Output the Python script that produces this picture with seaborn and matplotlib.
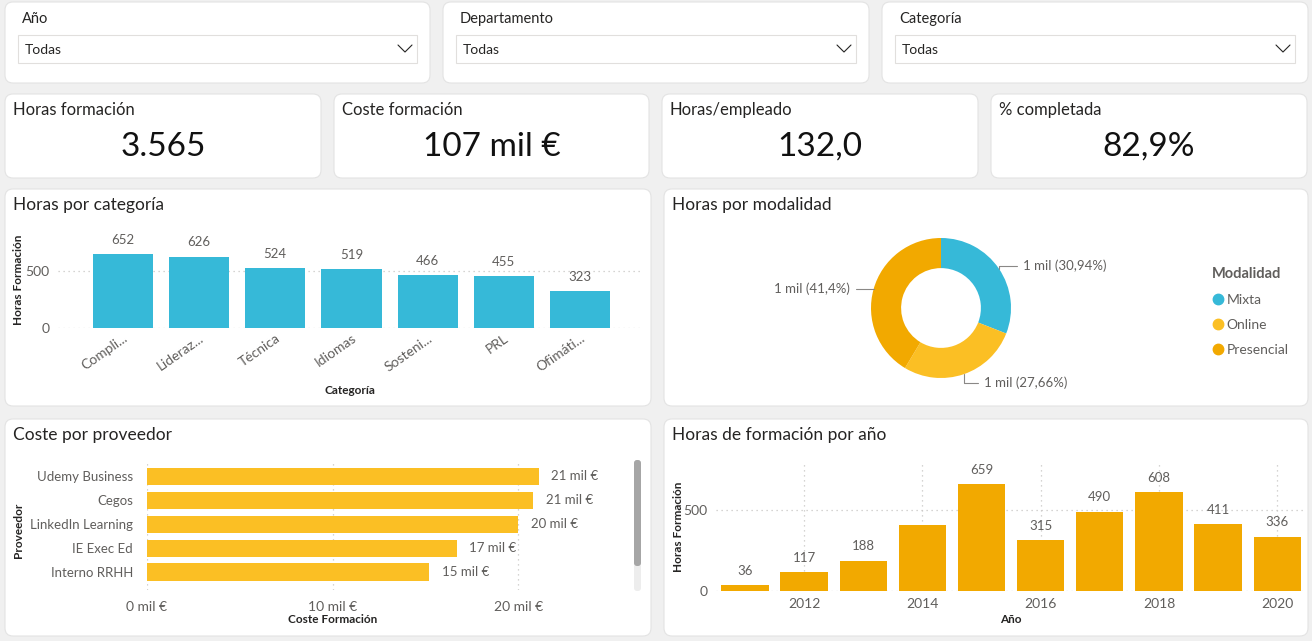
import matplotlib
matplotlib.use("Agg")
import matplotlib.pyplot as plt
import numpy as np
import pandas as pd
import seaborn as sns
from matplotlib.lines import Line2D
from matplotlib.patches import FancyBboxPatch

# data
kpi_titles = ["Horas formación", "Coste formación", "Horas/empleado", "% completada"]
kpi_values = ["3.565", "107 mil €", "132,0", "82,9%"]
slicer_titles = ["Año", "Departamento", "Categoría"]

categorias = ["Compli...", "Lideraz...", "Técnica", "Idiomas", "Sosteni...", "PRL", "Ofimáti..."]
horas_categoria = [652, 626, 524, 519, 466, 455, 323]

modalidades = ["Mixta", "Online", "Presencial"]
horas_modalidad = [1103, 986, 1476]
etiquetas_modalidad = ["1 mil (30,94%)", "1 mil (27,66%)", "1 mil (41,4%)"]

proveedores = ["Udemy Business", "Cegos", "LinkedIn Learning", "IE Exec Ed", "Interno RRHH"]
coste_proveedor = [21.1, 20.8, 20.0, 16.7, 15.2]  # miles de €

anios = [2011, 2012, 2013, 2014, 2015, 2016, 2017, 2018, 2019, 2020]
horas_anio = [36, 117, 188, 405, 659, 315, 490, 608, 411, 336]

W, H = 1312, 641
CYAN = "#36B9D8"
AMBER = "#F2A900"
YELLOW = "#FBBF24"
TXT = "#252423"
GREY = "#605E5C"
GRID = "#C8C6C4"

sns.set_theme(style="white")
plt.rcParams["font.family"] = ["Lato", "DejaVu Sans"]

fig = plt.figure(figsize=(W / 100, H / 100), dpi=100)
fig.patch.set_facecolor("#F0F0F0")


def panel(x0, y0, x1, y1):
    p = FancyBboxPatch((x0 / 100, (H - y1) / 100), (x1 - x0) / 100, (y1 - y0) / 100,
                       boxstyle="round,pad=0,rounding_size=0.08",
                       transform=fig.dpi_scale_trans, facecolor="white",
                       edgecolor="#E3E3E3", linewidth=0.8, zorder=-2)
    fig.patches.append(p)


def ftext(x, y, s, **kw):
    kw.setdefault("va", "center")
    kw.setdefault("color", TXT)
    fig.text(x / W, 1 - y / H, s, **kw)


def ax_at(x0, y0, x1, y1):
    ax = fig.add_axes([x0 / W, 1 - y1 / H, (x1 - x0) / W, (y1 - y0) / H])
    ax.set_facecolor("none")
    for s in ax.spines.values():
        s.set_visible(False)
    ax.tick_params(length=0, colors=GREY, labelsize=10)
    return ax


AXLAB = dict(fontsize=8.5, fontweight="bold", color=TXT)

# slicers
for i, (x0, x1) in enumerate([(5, 430), (443, 869), (882, 1308)]):
    panel(x0, 2, x1, 83)
    ftext(x0 + 17, 19, slicer_titles[i], fontsize=10.5)
    box = FancyBboxPatch(((x0 + 13) / 100, (H - 63) / 100), (x1 - x0 - 26) / 100, 0.28,
                         boxstyle="square,pad=0", transform=fig.dpi_scale_trans,
                         facecolor="white", edgecolor="#E1DFDD", linewidth=0.8, zorder=-1)
    fig.patches.append(box)
    ftext(x0 + 20, 50, "Todas", fontsize=10)
    cx = x1 - 25
    fig.lines.append(Line2D([(cx - 7) / W, cx / W, (cx + 7) / W],
                            [1 - 45 / H, 1 - 52 / H, 1 - 45 / H],
                            transform=fig.transFigure, color=TXT, lw=0.8))

# KPI cards
for i, (x0, x1) in enumerate([(5, 321), (334, 649), (662, 978), (991, 1307)]):
    panel(x0, 94, x1, 178)
    ftext(x0 + 8, 110, kpi_titles[i], fontsize=12)
    ftext((x0 + x1) / 2, 147, kpi_values[i], fontsize=24, ha="center", color="#111111")

# chart panels
panel(5, 189, 651, 406)
panel(664, 189, 1308, 406)
panel(5, 419, 651, 636)
panel(664, 419, 1308, 636)
ftext(13, 205, "Horas por categoría", fontsize=12.5)
ftext(672, 205, "Horas por modalidad", fontsize=12.5)
ftext(13, 435, "Coste por proveedor", fontsize=12.5)
ftext(672, 435, "Horas de formación por año", fontsize=12.5)

grid_kw = dict(color=GRID, linestyle=(0, (1, 3)), linewidth=0.9)

# Horas por categoría
ax1 = ax_at(58, 237, 641, 328)
sns.barplot(x=categorias, y=horas_categoria, color=CYAN, saturation=1, width=0.79,
            linewidth=0, ax=ax1)
ax1.set_xlim(-0.85, 6.8)
ax1.set_ylim(0, 800)
ax1.set_yticks([0, 500])
ax1.yaxis.grid(True, **grid_kw)
ax1.set_axisbelow(True)
ax1.bar_label(ax1.containers[0], padding=6, fontsize=9.5, color=GREY)
ax1.tick_params(axis="x", pad=3)
ax1.tick_params(axis="y", pad=6)
plt.setp(ax1.get_xticklabels(), rotation=35, ha="right", rotation_mode="anchor")
ax1.set_xlabel("Categoría", **AXLAB)
ax1.xaxis.set_label_coords(0.5, -(385 - 328) / 91)
ax1.set_ylabel("Horas Formación", **AXLAB)
ax1.yaxis.set_label_coords((24 - 58) / 583, 0.53)

# Horas por modalidad
ax2 = fig.add_axes([871 / W, 1 - 378 / H, 140 / W, 140 / H])
wedges, _ = ax2.pie(horas_modalidad, colors=[CYAN, YELLOW, AMBER], startangle=90,
                    counterclock=False, wedgeprops=dict(width=0.43, linewidth=0))
ax2.set_xlim(-1, 1)
ax2.set_ylim(-1, 1)
ax2.set_aspect("equal")
lab_pos = [((1.17, 0.60), "left"), ((0.62, -1.07), "left"), ((-1.30, 0.27), "right")]
for w, lab, (xy, ha) in zip(wedges, etiquetas_modalidad, lab_pos):
    ang = np.deg2rad((w.theta1 + w.theta2) / 2)
    ex, ey = np.cos(ang), np.sin(ang)
    ax2.annotate(lab, xy=(ex, ey), xytext=xy, ha=ha, va="center", fontsize=9.5,
                 color=GREY, annotation_clip=False,
                 arrowprops=dict(arrowstyle="-", color="#8A8886", lw=0.8,
                                 shrinkA=2, shrinkB=0,
                                 connectionstyle="angle,angleA=0,angleB=90,rad=0"))
handles = [Line2D([], [], marker="o", linestyle="", markersize=7.5, color=c)
           for c in [CYAN, YELLOW, AMBER]]
leg = fig.legend(handles, modalidades, title="Modalidad", loc="upper left",
                 bbox_to_anchor=(1199 / W, 1 - 254 / H), frameon=False,
                 fontsize=10, labelcolor=GREY, handletextpad=0.1,
                 handlelength=1.0, labelspacing=0.95, alignment="left")
leg.get_title().set_fontweight("bold")
leg.get_title().set_color(GREY)
leg.get_title().set_fontsize(10.5)

# Coste por proveedor
ax3 = ax_at(147, 460, 611, 590)
sns.barplot(x=coste_proveedor, y=proveedores, orient="h", color=YELLOW, saturation=1,
            width=0.71, linewidth=0, ax=ax3)
ax3.set_xlim(0, 25)
ax3.set_ylim(4.75, -0.67)
ax3.set_xticks([0, 10, 20])
ax3.set_xticklabels([f"{v} mil €" for v in [0, 10, 20]])
ax3.xaxis.grid(True, **grid_kw)
ax3.set_axisbelow(True)
ax3.bar_label(ax3.containers[0], labels=[f"{v:.0f} mil €" for v in coste_proveedor],
              padding=9, fontsize=9.5, color=GREY)
ax3.tick_params(axis="x", pad=8)
ax3.tick_params(axis="y", pad=10, labelsize=9.5)
ax3.set_xlabel("Coste Formación", **AXLAB)
ax3.xaxis.set_label_coords((333 - 147) / 464, -(614 - 590) / 130)
ax3.set_ylabel("Proveedor", **AXLAB)
ax3.yaxis.set_label_coords((24 - 147) / 464, 0.46)
# scroll bar
for (ya, yb, col) in [(460, 591, "#EDEDED"), (460, 566, "#A6A6A6")]:
    fig.patches.append(FancyBboxPatch((634 / 100, (H - yb) / 100), 0.07, (yb - ya) / 100,
                                      boxstyle="round,pad=0,rounding_size=0.03",
                                      transform=fig.dpi_scale_trans, facecolor=col,
                                      edgecolor="none"))

# Horas de formación por año
ax4 = ax_at(716, 462, 1305, 591)
sns.barplot(x=anios, y=horas_anio, native_scale=True, color=AMBER, saturation=1,
            width=0.8, linewidth=0, ax=ax4)
ax4.set_xlim(2010.51, 2020.47)
ax4.set_ylim(0, 796)
ax4.set_xticks([2012, 2014, 2016, 2018, 2020])
ax4.set_xticklabels(["2012", "2014", "2016", "2018", "2020"])
ax4.set_yticks([0, 500])
ax4.grid(True, **grid_kw)
ax4.set_axisbelow(True)
lbls = ["" if a == 2014 else str(v) for a, v in zip(anios, horas_anio)]
ax4.bar_label(ax4.containers[0], labels=lbls, padding=6, fontsize=9.5, color=GREY)
ax4.tick_params(axis="x", pad=5)
ax4.tick_params(axis="y", pad=6)
ax4.set_xlabel("Año", **AXLAB)
ax4.xaxis.set_label_coords((1011 - 716) / 589, -(614 - 591) / 129)
ax4.set_ylabel("Horas Formación", **AXLAB)
ax4.yaxis.set_label_coords((684 - 716) / 589, 0.5)

fig.savefig("out.png", dpi=100, facecolor=fig.get_facecolor())
